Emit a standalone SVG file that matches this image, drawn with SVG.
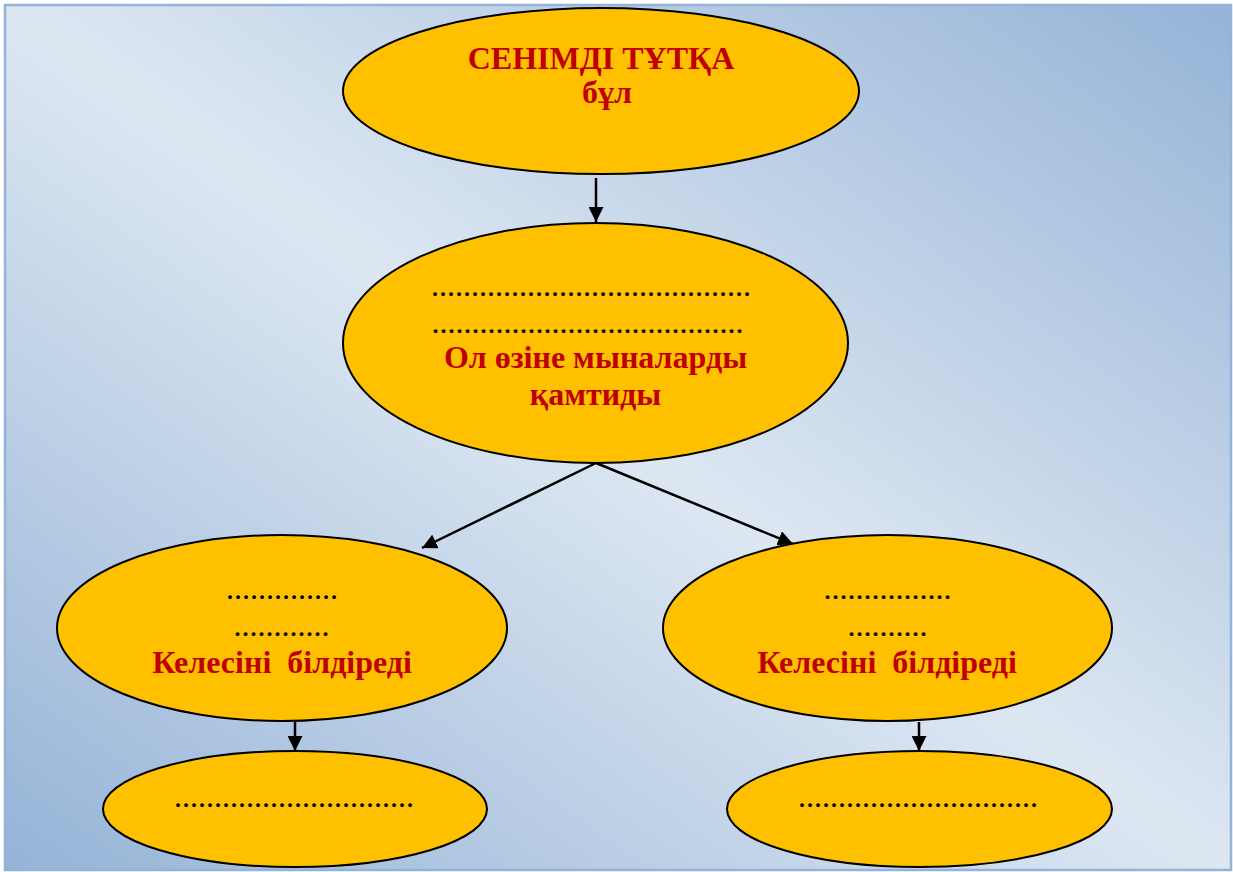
<svg xmlns="http://www.w3.org/2000/svg" width="1233" height="872" viewBox="0 0 1233 872">
<defs>
<linearGradient id="bg" x1="0" y1="1" x2="1" y2="0">
<stop offset="0" stop-color="#95b3d7"/>
<stop offset="0.5" stop-color="#dde7f2"/>
<stop offset="1" stop-color="#95b3d7"/>
</linearGradient>
<marker id="arr" viewBox="0 0 10 10" refX="10" refY="5" markerWidth="6" markerHeight="6" markerUnits="strokeWidth" orient="auto">
<path d="M0,0 L10,5 L0,10 z" fill="#000"/>
</marker>
<style>
.node{fill:#ffc000;stroke:#000;stroke-width:2}
.t{font-family:"Liberation Serif","Times New Roman",serif;font-weight:bold;font-size:32px;fill:#c00000;text-anchor:middle;white-space:pre}
.d{font-family:"Liberation Serif","Times New Roman",serif;font-weight:normal;font-size:32px;fill:#000;text-anchor:middle}
.c{stroke:#000;stroke-width:2.5;fill:none;marker-end:url(#arr)}
</style>
</defs>
<rect x="0" y="0" width="1233" height="872" fill="#fff"/>
<rect x="5" y="5" width="1226" height="865" fill="url(#bg)" stroke="#95b3d7" stroke-width="2.5"/>
<g id="connectors">
<line class="c" x1="596" y1="178" x2="596" y2="222"/>
<line class="c" x1="596" y1="463" x2="422" y2="548"/>
<line class="c" x1="596" y1="463" x2="793" y2="544"/>
<line class="c" x1="295" y1="722" x2="295" y2="751"/>
<line class="c" x1="919" y1="722" x2="919" y2="751"/>
</g>
<g id="n1">
<ellipse class="node" cx="601" cy="91" rx="258" ry="83"/>
<text class="t" x="601" y="69">СЕНІМДІ ТҰТҚА</text>
<text class="t" x="607" y="103">бұл</text>
</g>
<g id="n2">
<ellipse class="node" cx="595.5" cy="343" rx="252.5" ry="120"/>
<text class="d" x="591" y="296">........................................</text>
<text class="d" x="587.5" y="333">.......................................</text>
<text class="t" x="595.5" y="368">Ол өзіне мыналарды</text>
<text class="t" x="595.5" y="405">қамтиды</text>
</g>
<g id="n3">
<ellipse class="node" cx="282" cy="628" rx="225" ry="93"/>
<text class="d" x="282" y="599">..............</text>
<text class="d" x="281.5" y="636">............</text>
<text class="t" x="282" y="673">Келесіні  білдіреді</text>
</g>
<g id="n4">
<ellipse class="node" cx="887.5" cy="628" rx="224.5" ry="93"/>
<text class="d" x="887.5" y="599">................</text>
<text class="d" x="887.5" y="636">..........</text>
<text class="t" x="887" y="673">Келесіні  білдіреді</text>
</g>
<g id="n5">
<ellipse class="node" cx="295" cy="809" rx="192" ry="58"/>
<text class="d" x="294" y="807">..............................</text>
</g>
<g id="n6">
<ellipse class="node" cx="919.5" cy="809" rx="192.5" ry="58"/>
<text class="d" x="918" y="807">..............................</text>
</g>
</svg>
